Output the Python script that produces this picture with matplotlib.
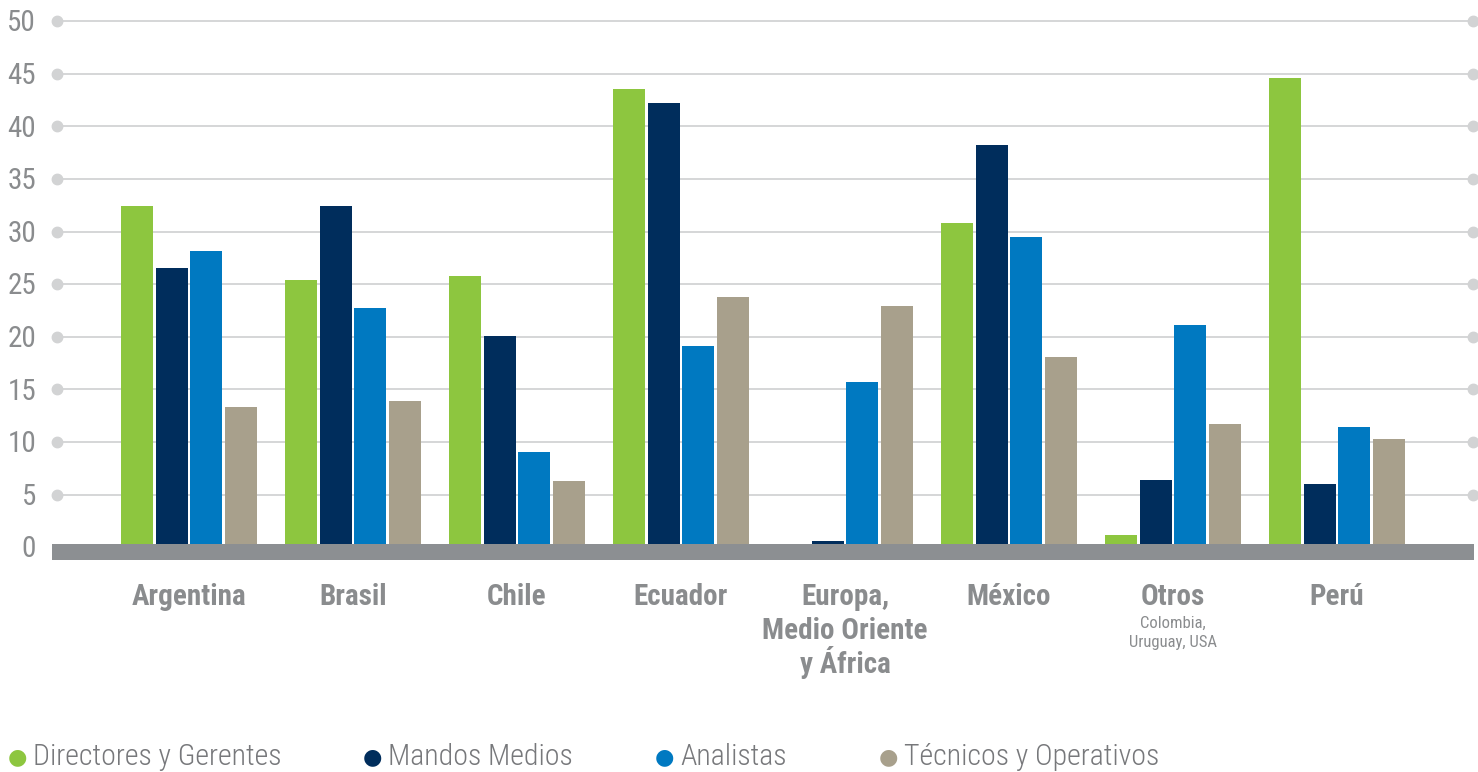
import matplotlib
matplotlib.use("Agg")
import matplotlib.pyplot as plt
import matplotlib.transforms as mtransforms
from matplotlib import font_manager
import numpy as np

categories = ["Argentina", "Brasil", "Chile", "Ecuador",
              "Europa,\nMedio Oriente\ny África", "México", "Otros", "Perú"]
subtitles = ["", "", "", "", "", "", "Colombia,\nUruguay, USA", ""]
series_names = ["Directores y Gerentes", "Mandos Medios", "Analistas", "Técnicos y Operativos"]
directores = [32.4, 25.4, 25.8, 43.6, 0.0, 30.8, 1.2, 44.6]
mandos = [26.5, 32.4, 20.1, 42.2, 0.6, 38.2, 6.4, 6.0]
analistas = [28.2, 22.7, 9.1, 19.1, 15.7, 29.5, 21.1, 11.4]
tecnicos = [13.3, 13.9, 6.3, 23.8, 22.9, 18.1, 11.7, 10.3]
yticks = [0, 5, 10, 15, 20, 25, 30, 35, 40, 45, 50]

colors = ["#8DC63F", "#002D5C", "#0079C1", "#A8A08C"]
text_gray = "#8A8C8E"
grid_gray = "#D2D3D4"
band_gray = "#8C8F92"

available = {f.name for f in font_manager.fontManager.ttflist}
font = "DejaVu Sans"
stretch = "normal"
for cand in ["Roboto Condensed", "Liberation Sans Narrow", "Open Sans Condensed"]:
    if cand in available:
        font = cand
        break
else:
    stretch = "condensed"
plt.rcParams["font.family"] = [font, "DejaVu Sans"]
plt.rcParams["font.stretch"] = stretch

fig = plt.figure(figsize=(14.78, 7.72), dpi=100)
ymin, ymax = -1.2, 50.5
ax = fig.add_axes([52 / 1478, 1 - 559.9 / 772, 1422 / 1478, (559.9 - 16.0) / 772])
ax.set_xlim(-0.835, -0.835 + 1422 / 164)
ax.set_ylim(ymin, ymax)
for s in ax.spines.values():
    s.set_visible(False)
ax.set_xticks([])
ax.set_yticks([])

trans = mtransforms.blended_transform_factory(ax.transAxes, ax.transData)
x0f, x1f = 5 / 1422, 1421 / 1422
for t in yticks:
    if t > 0:
        ax.plot([x0f, x1f], [t, t], color=grid_gray, lw=1.3, transform=trans, zorder=1)
        ax.plot([x0f, x1f], [t, t], ls="none", marker="o", ms=7.5, color=grid_gray,
                transform=trans, clip_on=False, zorder=1)
    ax.text(-16 / 1422, t - 0.2, str(t), transform=trans, ha="right", va="center",
            fontsize=21, color=text_gray)

ax.axhspan(ymin, 0.3, color=band_gray, zorder=3, lw=0)

x = np.arange(len(categories))
width = 32 / 164
step = 34.7 / 164
for i, (vals, c) in enumerate(zip([directores, mandos, analistas, tecnicos], colors)):
    ax.bar(x + (i - 1.5) * step, vals, width=width, color=c, zorder=2)

ytr = mtransforms.blended_transform_factory(ax.transData, fig.transFigure)
for xi, cat, sub in zip(x, categories, subtitles):
    for k, line in enumerate(cat.split("\n")):
        ax.text(xi, 1 - (605 + 34 * k) / 772, line, transform=ytr, ha="center",
                va="baseline", fontsize=21, fontweight="bold", color=text_gray)
    if sub:
        for k, line in enumerate(sub.split("\n")):
            ax.text(xi, 1 - (628 + 19 * k) / 772, line, transform=ytr, ha="center",
                    va="baseline", fontsize=12, color=text_gray)

legend_x = [17, 372, 664, 888]
for lx, name, c in zip(legend_x, series_names, colors):
    fig.text(lx / 1478, 1 - 757 / 772, "\u25CF", ha="center", va="center",
             fontsize=16, color=c, family="DejaVu Sans")
    fig.text((lx + 16) / 1478, 1 - 765 / 772, name, ha="left", va="baseline",
             fontsize=21.5, color="#77787B", fontweight="light")

fig.savefig("out.png", dpi=100, facecolor="white")
